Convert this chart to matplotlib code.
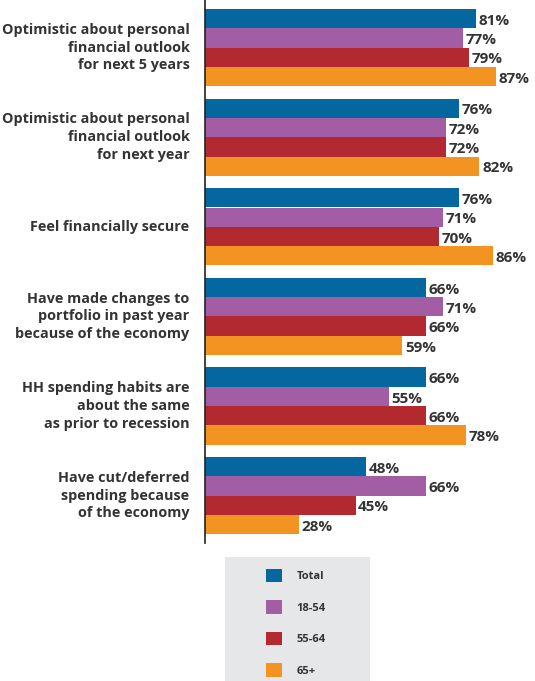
import matplotlib
matplotlib.use("Agg")
import matplotlib.pyplot as plt
from matplotlib.patches import Rectangle
import numpy as np

categories = [
    "Optimistic about personal\nfinancial outlook\nfor next 5 years",
    "Optimistic about personal\nfinancial outlook\nfor next year",
    "Feel financially secure",
    "Have made changes to\nportfolio in past year\nbecause of the economy",
    "HH spending habits are\nabout the same\nas prior to recession",
    "Have cut/deferred\nspending because\nof the economy",
]
series_names = ["Total", "18-54", "55-64", "65+"]
total = [81, 76, 76, 66, 66, 48]
age_18_54 = [77, 72, 71, 71, 55, 66]
age_55_64 = [79, 72, 70, 66, 66, 45]
age_65_plus = [87, 82, 86, 59, 78, 28]
series_values = [total, age_18_54, age_55_64, age_65_plus]
colors = ["#0567A0", "#A25DA5", "#B22A30", "#F39322"]

W, H = 535, 681
fig = plt.figure(figsize=(W / 100, H / 100), dpi=100)
plt.rcParams["font.family"] = ["Open Sans", "DejaVu Sans"]

# axes: left edge at the vertical axis line
ax_left, ax_right, ax_bottom_px = 205, 535, 543
ax = fig.add_axes([ax_left / W, 1 - ax_bottom_px / H, (ax_right - ax_left) / W, ax_bottom_px / H])

pitch_px = 89.6
bar_h = 19.3 / pitch_px
offset = 9 / pitch_px
text_color = "#333333"

for k, (vals, col) in enumerate(zip(series_values, colors)):
    ys = np.arange(len(categories)) + offset + (k + 0.5) * bar_h
    ax.barh(ys, vals, height=bar_h, color=col, edgecolor="none", label=series_names[k])
    for y, v in zip(ys, vals):
        ax.text(v + 0.8, y + 0.025, f"{v}%", va="center", ha="left", fontsize=11,
                fontweight="bold", color=text_color)

for i, cat in enumerate(categories):
    ax.text(-4.6, i + offset + 2 * bar_h, cat, ha="right", va="center", fontsize=10.4,
            fontweight="bold", color=text_color, linespacing=1.35)

ax.set_xlim(0, (ax_right - ax_left) / 3.346)
ax.set_ylim(ax_bottom_px / pitch_px, 0)
for s in ["top", "right", "bottom"]:
    ax.spines[s].set_visible(False)
ax.spines["left"].set_color("#222222")
ax.spines["left"].set_linewidth(1.2)
ax.set_xticks([])
ax.set_yticks([])

# legend panel
fig.patches.append(Rectangle((225 / W, 0), 145 / W, 1 - 557 / H, transform=fig.transFigure,
                             facecolor="#E6E7E8", edgecolor="none", zorder=0))
handles, labels = ax.get_legend_handles_labels()
leg = fig.legend(handles, labels, loc="upper left", bbox_to_anchor=(258 / W, 1 - 561 / H),
                 frameon=False, fontsize=8, handlelength=1.5, handleheight=1.5,
                 handletextpad=1.25, labelspacing=1.62, borderpad=0.2)
for t in leg.get_texts():
    t.set_fontweight("bold")
    t.set_color(text_color)

fig.savefig("out.png", dpi=100)
